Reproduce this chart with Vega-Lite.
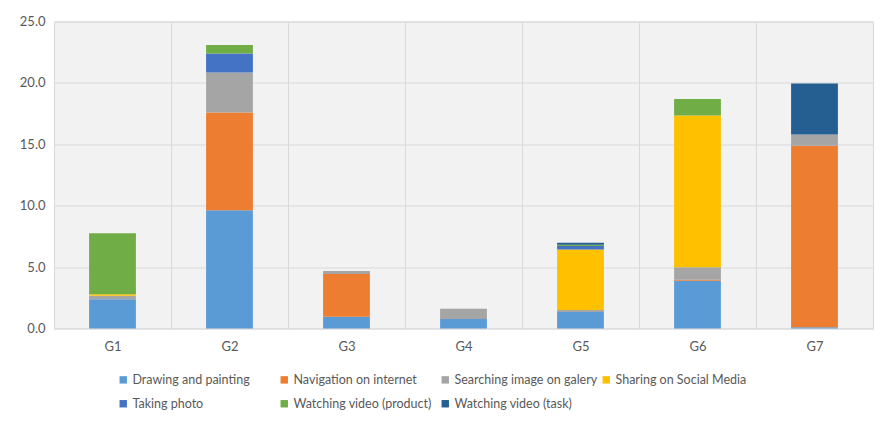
{
  "$schema": "https://vega.github.io/schema/vega-lite/v6.json",
  "autosize": "none",
  "width": 819,
  "height": 307,
  "padding": {"left": 54, "top": 21.5, "right": 12, "bottom": 95.5},
  "background": "white",
  "config": {
    "font": "Lato, sans-serif",
    "view": {"stroke": "#d9d9d9", "strokeWidth": 1, "fill": "#f2f2f2"},
    "axis": {"labelColor": "#595959", "labelFontSize": 13, "gridColor": "#d9d9d9", "gridWidth": 1, "domain": false, "ticks": false, "title": null}
  },
  "data": {"values": [
    {"group": "G1", "activity": "Drawing and painting", "value": 2.38},
    {"group": "G1", "activity": "Searching image on galery", "value": 0.29},
    {"group": "G1", "activity": "Sharing on Social Media", "value": 0.11},
    {"group": "G1", "activity": "Watching video (product)", "value": 4.97},
    {"group": "G2", "activity": "Drawing and painting", "value": 9.62},
    {"group": "G2", "activity": "Navigation on internet", "value": 7.96},
    {"group": "G2", "activity": "Searching image on galery", "value": 3.27},
    {"group": "G2", "activity": "Taking photo", "value": 1.55},
    {"group": "G2", "activity": "Watching video (product)", "value": 0.68},
    {"group": "G3", "activity": "Drawing and painting", "value": 0.96},
    {"group": "G3", "activity": "Navigation on internet", "value": 3.47},
    {"group": "G3", "activity": "Searching image on galery", "value": 0.25},
    {"group": "G4", "activity": "Drawing and painting", "value": 0.77},
    {"group": "G4", "activity": "Searching image on galery", "value": 0.84},
    {"group": "G5", "activity": "Drawing and painting", "value": 1.35},
    {"group": "G5", "activity": "Searching image on galery", "value": 0.15},
    {"group": "G5", "activity": "Sharing on Social Media", "value": 4.94},
    {"group": "G5", "activity": "Taking photo", "value": 0.27},
    {"group": "G5", "activity": "Watching video (product)", "value": 0.1},
    {"group": "G5", "activity": "Watching video (task)", "value": 0.18},
    {"group": "G6", "activity": "Drawing and painting", "value": 3.88},
    {"group": "G6", "activity": "Navigation on internet", "value": 0.08},
    {"group": "G6", "activity": "Searching image on galery", "value": 1.02},
    {"group": "G6", "activity": "Sharing on Social Media", "value": 12.37},
    {"group": "G6", "activity": "Watching video (product)", "value": 1.33},
    {"group": "G7", "activity": "Drawing and painting", "value": 0.1},
    {"group": "G7", "activity": "Navigation on internet", "value": 14.78},
    {"group": "G7", "activity": "Searching image on galery", "value": 0.92},
    {"group": "G7", "activity": "Watching video (task)", "value": 4.15}
  ]},
  "mark": {"type": "bar", "width": {"band": 0.4}},
  "encoding": {
    "x": {"field": "group", "type": "nominal", "scale": {"paddingInner": 0, "paddingOuter": 0},
      "axis": {"labelAngle": 0, "labelPadding": 12, "grid": true, "tickBand": "extent"}},
    "y": {"field": "value", "type": "quantitative", "aggregate": "sum", "stack": "zero",
      "scale": {"domain": [0, 25], "nice": false},
      "axis": {"values": [0, 5, 10, 15, 20, 25], "format": ".1f", "labelPadding": 9, "grid": true}},
    "color": {"field": "activity", "type": "nominal",
      "scale": {
        "domain": ["Drawing and painting", "Navigation on internet", "Searching image on galery", "Sharing on Social Media", "Taking photo", "Watching video (product)", "Watching video (task)"],
        "range": ["#5B9BD5", "#ED7D31", "#A5A5A5", "#FFC000", "#4472C4", "#70AD47", "#255E91"]
      },
      "legend": {"title": null, "orient": "none", "legendX": 63, "legendY": 352, "direction": "horizontal", "columns": 4,
        "gridAlign": "all",
        "symbolType": "square", "symbolSize": 55, "symbolStrokeWidth": 0, "labelFontSize": 12.5, "labelColor": "#595959",
        "columnPadding": 2, "rowPadding": 11, "labelOffset": 3}},
    "order": {"field": "activity", "sort": "ascending"}
  }
}
